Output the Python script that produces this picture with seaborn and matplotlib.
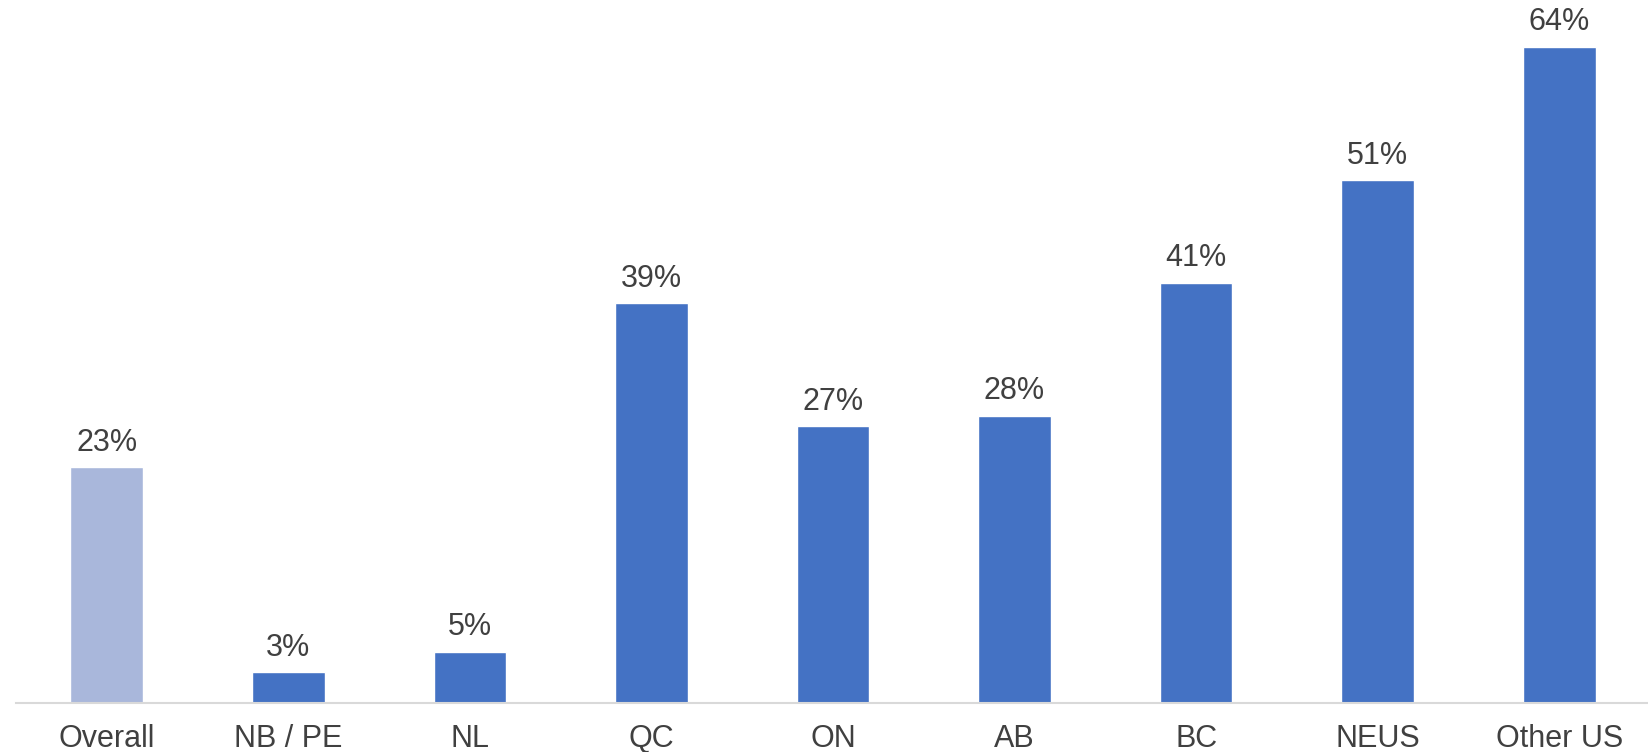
import pandas as pd
import seaborn as sns
import matplotlib.pyplot as plt

# Chart data
regions = ['Overall', 'NB / PE', 'NL', 'QC', 'ON', 'AB', 'BC', 'NEUS', 'Other US']
share = [23, 3, 5, 39, 27, 28, 41, 51, 64]
bar_colors = ['#A9B7DB'] + ['#4472C4'] * 8

df = pd.DataFrame({'region': regions, 'share': share})

sns.set_style('white')
plt.rcParams['font.family'] = ['Liberation Sans', 'DejaVu Sans']

fig = plt.figure(figsize=(16.49, 7.52), dpi=100)
ax = fig.add_axes([16 / 1649, 49 / 752, 1634 / 1649, 703 / 752])

sns.barplot(data=df, x='region', y='share', hue='region', palette=bar_colors,
            legend=False, width=0.4, saturation=1, ax=ax)

for i, v in enumerate(share):
    ax.annotate(f'{v}%', (i, v), xytext=(0, 7), textcoords='offset points',
                ha='center', va='bottom', fontsize=22, color='#404040')

ax.set_xlim(-0.5, 8.5)
ax.set_ylim(0, 68.6)
ax.set_xlabel('')
ax.set_ylabel('')
ax.set_yticks([])
ax.tick_params(axis='x', length=0, pad=15, labelsize=22, labelcolor='#404040')

for side in ['left', 'right', 'top']:
    ax.spines[side].set_visible(False)
ax.spines['bottom'].set_color('#D9D9D9')
ax.spines['bottom'].set_linewidth(1.5)

fig.savefig('out.png', dpi=100)
